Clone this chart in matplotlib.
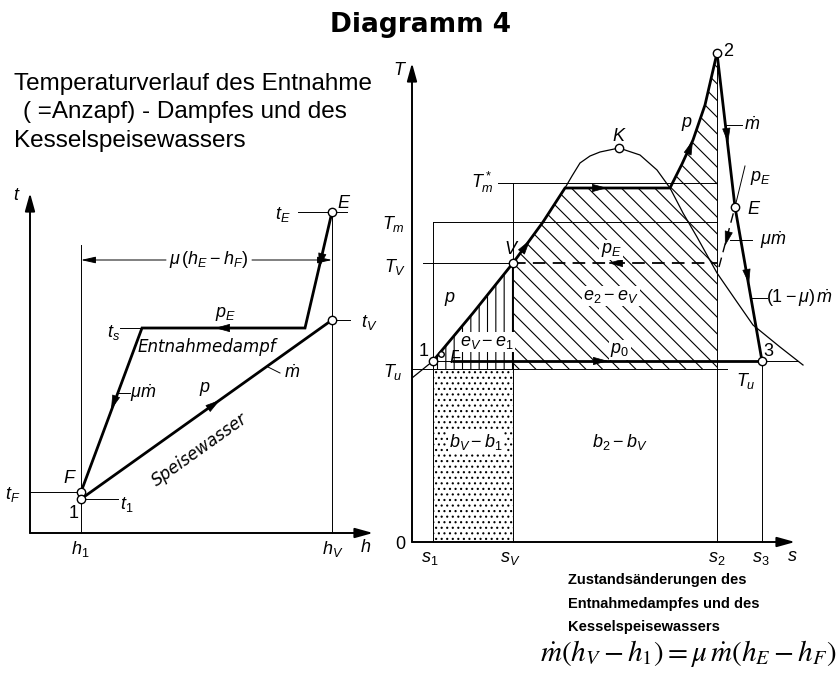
import numpy as np
import matplotlib
matplotlib.use('Agg')
import matplotlib.pyplot as plt

plt.rcParams['mathtext.fontset'] = 'custom'
plt.rcParams['mathtext.it'] = 'Liberation Sans:italic'
plt.rcParams['mathtext.rm'] = 'Liberation Sans'
plt.rcParams['mathtext.bf'] = 'Liberation Sans:bold'
plt.rcParams['hatch.linewidth'] = 0.8

W, H = 839, 678

# ---- h,t diagram (Entnahmevorwaermer) ----
h1, hV = 51, 302
t1, tF = 34, 41
ts, tV, tE = 205, 213, 321
h_dsat = 275          # Taupunkt bei p_E
h_cond = 112          # Ende der Kondensation bei p_E
h_max, t_max = 343, 340
t_bracket = 273

steam_h = [hV, h_dsat, h_cond, h1]
steam_t = [tE, ts, ts, tF]
water_h = [h1, hV]
water_t = [t1, tV]

# ---- T,s diagram ----
s1, sV, s2, s3 = 21, 101, 305, 350
Tu, T1, TV, Tm, Tm_star = 173, 181, 279, 320, 359
T_boil = 354
s_max, T_max = 383, 479
sK, TK = 207, 394
sE, TE = 323, 335
sF, TF = 29, 188

dome_s = [0, 21, 61, 101, 131, 153, 160, 168, 178, 188, 207, 228, 245, 258,
          271, 285, 305, 325, 341, 368, 391]
dome_T = [164, 181, 229, 279, 320, 354, 366, 379, 386, 390, 394, 387, 372, 354,
          329, 305, 269, 240, 217, 195, 177]
liquid_s = [21, 61, 101, 131, 153]
liquid_T = [181, 229, 279, 320, 354]
super_s = [258, 270, 281, 293, 305]
super_T = [354, 378, 402, 437, 489]
expansion_s = [305, sE, s3]
expansion_T = [489, TE, T1]
pE_dash_s = [307, sE]
pE_dash_T = [275, TE]
pE_solid_s = [sE, 333]
pE_solid_T = [TE, 376]

fig = plt.figure(figsize=(W / 100, H / 100), dpi=100)

heavy = dict(color='k', lw=2.0, solid_capstyle='butt', solid_joinstyle='miter')
thin = dict(color='k', lw=0.7)
lab = dict(fontsize=13, ha='center', va='center', style='italic')
axis_arrow = dict(arrowstyle='-|>,head_length=0.9,head_width=0.25', color='k',
                  lw=1.4, mutation_scale=12, shrinkA=0, shrinkB=0)


def px_axes(x0, y0, x1, y1, ox, oy):
    # axes over a pixel box, data origin at pixel (ox, oy), 1 unit = 1 px
    ax = fig.add_axes([x0 / W, 1 - y1 / H, (x1 - x0) / W, (y1 - y0) / H])
    ax.set_xlim(x0 - ox, x1 - ox)
    ax.set_ylim(oy - y1, oy - y0)
    ax.axis('off')
    return ax


def arrowhead(ax, x, y, dx, dy):
    n = np.hypot(dx, dy)
    ax.annotate('', xy=(x, y), xytext=(x - 3 * dx / n, y - 3 * dy / n),
                arrowprops=dict(arrowstyle='-|>,head_length=0.8,head_width=0.22',
                                color='k', lw=0.5, mutation_scale=12,
                                shrinkA=0, shrinkB=0))


def ring(ax, x, y, ms=6):
    ax.plot([x], [y], 'o', ms=ms, mfc='white', mec='k', mew=1.0, zorder=10,
            clip_on=False)


# ================= left: t over h =================
axL = px_axes(0, 170, 380, 570, 30, 533)
axL.annotate('', xy=(0, t_max), xytext=(0, 0), arrowprops=axis_arrow)
axL.annotate('', xy=(h_max, 0), xytext=(0, 0), arrowprops=axis_arrow)

axL.plot([h1, h1], [0, 288], **thin)
axL.plot([hV, hV], [0, tE], **thin)
axL.plot([268, 317], [tE, tE], **thin)
axL.plot([0, h1], [tF, tF], **thin)
axL.plot([h1, 88], [t1, t1], **thin)
axL.plot([hV, 320], [tV, tV], **thin)
axL.plot([90, h_cond], [ts, ts], **thin)
axL.plot([88, 100], [140, 140], **thin)
axL.plot([238, 250], [166, 160], **thin)

bracket = dict(arrowstyle='-|>,head_length=0.8,head_width=0.18', color='k',
               lw=0.7, mutation_scale=11, shrinkA=0, shrinkB=0)
axL.annotate('', xy=(h1, t_bracket), xytext=(136, t_bracket), arrowprops=bracket)
axL.annotate('', xy=(hV, t_bracket), xytext=(222, t_bracket), arrowprops=bracket)

axL.plot(steam_h, steam_t, **heavy)
axL.plot(water_h, water_t, **heavy)

arrowhead(axL, 289, 265, h_dsat - hV, ts - tE)
arrowhead(axL, 185, ts, -1, 0)
arrowhead(axL, 81, 123, h1 - h_cond, tF - ts)
arrowhead(axL, 190, 133, hV - h1, tV - t1)

for x, y in [(hV, tE), (hV, tV), (h1, tF), (h1, t1)]:
    ring(axL, x, y)

axL.text(-13, 338, r'$t$', **lab)
axL.text(253, 319, r'$t_E$', **lab)
axL.text(314, 330, r'$E$', **lab)
axL.text(179, t_bracket, r'$\mu\,(h_E - h_F)$', **lab)
axL.text(84, 201, r'$t_s$', **lab)
axL.text(195, 219, r'$p_E$', **lab)
axL.text(177, 186, 'Entnahmedampf', **{**lab, 'fontsize': 12})
axL.text(113, 140, r'$\mu\dot{m}$', **lab)
axL.text(175, 144, r'$p$', **lab)
axL.text(262, 160, r'$\dot{m}$', **lab)
axL.text(170, 83, 'Speisewasser', rotation=35.5, **{**lab, 'fontsize': 12})
axL.text(339, 211, r'$t_V$', **lab)
axL.text(-17, 39, r'$t_F$', **lab)
axL.text(97, 28, r'$t_1$', **lab)
axL.text(40, 55, r'$F$', **lab)
axL.text(44, 20, r'$1$', **lab)
axL.text(50, -16, r'$h_1$', **lab)
axL.text(303, -16, r'$h_V$', **lab)
axL.text(336, -14, r'$h$', **lab)

# ================= right: T over s =================
axR = px_axes(380, 40, 839, 570, 412, 542)

hatch_s = liquid_s[2:] + super_s + [s2, sV]
hatch_T = liquid_T[2:] + super_T + [Tu, Tu]
axR.fill(hatch_s, hatch_T, facecolor='none', edgecolor='k', hatch='\\\\', lw=0)
axR.fill([s1] + liquid_s[:3] + [sV], [Tu] + liquid_T[:3] + [Tu],
         facecolor='none', edgecolor='k', hatch='||', lw=0)
axR.fill([s1, sV, sV, s1], [0, 0, Tu, Tu], facecolor='none', edgecolor='k',
         hatch='...', lw=0)

axR.annotate('', xy=(0, T_max), xytext=(0, 0), arrowprops=axis_arrow)
axR.annotate('', xy=(s_max, 0), xytext=(0, 0), arrowprops=axis_arrow)

axR.plot(dome_s, dome_T, color='k', lw=0.9)
axR.plot([s1, s1], [0, Tm], **thin)
axR.plot([sV, sV], [0, Tm_star], **thin)
axR.plot([s2, s2], [0, super_T[-1]], **thin)
axR.plot([s3, s3], [0, T1], **thin)
axR.plot([0, 315], [Tu, Tu], **thin)
axR.plot([s1, 386], [T1, T1], **thin)
axR.plot([s1, s2], [Tm, Tm], **thin)
axR.plot([86, s2], [Tm_star, Tm_star], **thin)
axR.plot([11, sV], [TV, TV], **thin)
axR.plot([sV, s2], [TV, TV], color='k', lw=1.3, dashes=(7, 4))
axR.plot(pE_dash_s, pE_dash_T, color='k', lw=1.0, dashes=(7, 4))
axR.plot(pE_solid_s, pE_solid_T, **thin)

axR.plot(liquid_s + super_s, liquid_T + super_T, **heavy)
axR.plot([40, s3], [T1, T1], **heavy)
axR.plot(expansion_s, expansion_T, **heavy)

# leader lines
axR.plot([314, 330], [417, 417], **thin)
axR.plot([318, 340], [302, 302], **thin)
axR.plot([338, 355], [244, 244], **thin)

arrowhead(axR, 118, 302, 30, 42)
arrowhead(axR, 195, T_boil, 1, 0)
arrowhead(axR, 281, 402, 23, 59)
arrowhead(axR, 196, TV, -1, 0)
arrowhead(axR, 196, T1, 1, 0)
arrowhead(axR, 316, 399, 18, -154)
arrowhead(axR, 337, 258, 27, -153)
arrowhead(axR, 313, 296, -16, -60)

for x, y in [(s1, T1), (sV, TV), (sK, TK), (s2, super_T[-1]), (sE, TE), (s3, T1)]:
    ring(axR, x, y)
ring(axR, sF, TF, ms=4)

wbox = dict(facecolor='white', edgecolor='none', pad=1.0)
axR.text(-12, 472, r'$T$', **lab)
axR.text(-11, -2, r'$0$', **lab)
axR.text(18, -16, r'$s_1$', **lab)
axR.text(98, -16, r'$s_V$', **lab)
axR.text(305, -16, r'$s_2$', **lab)
axR.text(349, -16, r'$s_3$', **lab)
axR.text(380, -14, r'$s$', **lab)
axR.text(-19, 318, r'$T_m$', **lab)
axR.text(70, 360, r'$T_m^*$', **lab)
axR.text(-17, 275, r'$T_V$', **lab)
axR.text(-19, 170, r'$T_u$', **lab)
axR.text(334, 161, r'$T_u$', **lab)
axR.text(207, 406, r'$K$', **lab)
axR.text(317, 491, r'$2$', **lab)
axR.text(342, 333, r'$E$', **lab)
axR.text(357, 191, r'$3$', **lab)
axR.text(12, 191, r'$1$', **lab)
axR.text(44, 184, r'$F$', **lab)
axR.text(100, 293, r'$V$', **lab)
axR.text(275, 418, r'$p$', **lab)
axR.text(38, 243, r'$p$', **lab)
axR.text(199, 292, r'$p_E$', bbox=wbox, **lab)
axR.text(348, 364, r'$p_E$', **lab)
axR.text(208, 192, r'$p_0$', bbox=wbox, **lab)
axR.text(199, 246, r'$e_2 - e_V$', bbox=wbox, **lab)
axR.text(75, 200, r'$e_V - e_1$', bbox=wbox, **lab)
axR.text(64, 100, r'$b_V - b_1$', bbox=wbox, **lab)
axR.text(208, 100, r'$b_2 - b_V$', **lab)
axR.text(340, 417, r'$\dot{m}$', **lab)
axR.text(361, 302, r'$\mu\dot{m}$', **lab)
axR.text(388, 244, r'$(1-\mu)\,\dot{m}$', **lab)

# ================= texts =================
def ftext(x, y, s, **kw):
    fig.text(x / W, 1 - y / H, s, **kw)


ftext(420, 32, 'Diagramm 4', fontsize=19, fontweight='bold',
      family='DejaVu Sans', ha='center', va='baseline')
for y, line, x in [(90, 'Temperaturverlauf des Entnahme', 14),
                   (118, '( =Anzapf) - Dampfes und des', 23),
                   (147, 'Kesselspeisewassers', 14)]:
    ftext(x, y, line, fontsize=17.5, family='Liberation Sans', va='baseline')
for y, line in [(584, 'Zustandsänderungen des'),
                (608, 'Entnahmedampfes und des'),
                (631, 'Kesselspeisewassers')]:
    ftext(568, y, line, fontsize=10.5, fontweight='bold',
          family='Liberation Sans', va='baseline')
ftext(540, 661, r'$\dot{m}(h_V - h_1) = \mu\,\dot{m}(h_E - h_F)$', fontsize=21,
      math_fontfamily='stix', va='baseline')

fig.savefig('out.png', dpi=100, facecolor='white')
